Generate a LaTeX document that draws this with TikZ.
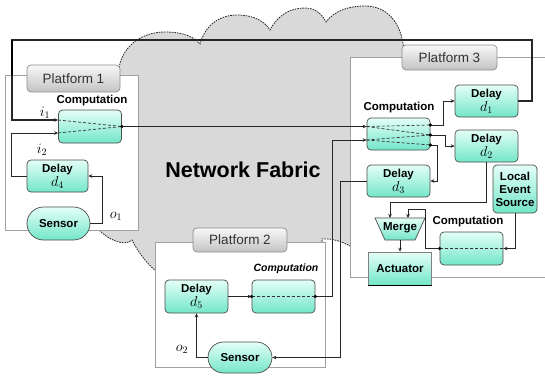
\documentclass[tikz,border=0pt]{standalone}
\usepackage{fontspec}
\setmainfont{Liberation Sans}
\usetikzlibrary{arrows.meta,shapes.geometric,shapes.misc,calc}
\definecolor{aqtop}{RGB}{228,255,247}
\definecolor{aqbot}{RGB}{115,230,200}
\definecolor{cloudgray}{RGB}{217,217,217}
\definecolor{platline}{RGB}{160,160,160}
\definecolor{tabtop}{RGB}{248,248,248}
\definecolor{tabbot}{RGB}{195,195,195}
\newcommand\dlsize{\fontsize{14}{14}\selectfont}
\begin{document}
\begin{tikzpicture}[x=1pt,y=-1pt,
  lbl/.style={font=\bfseries\fontsize{11.5}{13}\selectfont},
  box/.style={draw=black!70, line width=0.7pt, rounded corners=4pt,
    top color=aqtop, bottom color=aqbot, align=center, inner sep=0pt,
    minimum width=63pt, minimum height=33pt, lbl},
  pill/.style={box, rounded rectangle, sharp corners},
  plat/.style={draw=platline, fill=white, line width=0.8pt, inner sep=0pt},
  tabbox/.style={draw=black!45, line width=0.7pt, rounded corners=4pt,
    top color=tabtop, bottom color=tabbot, inner sep=0pt,
    font=\fontsize{13.5}{14}\selectfont, text=black!80},
  conn/.style={draw=black!85, line width=0.8pt},
  arr/.style={conn, -{Stealth[length=4pt,width=3.5pt]}},
  inner/.style={draw=black!80, line width=0.7pt, dash pattern=on 3pt off 2pt},
  dot/.style={circle, fill=black, inner sep=0pt, minimum size=3.6pt},
  mlbl/.style={font=\fontsize{14}{14}\selectfont}
]
\useasboundingbox (0,0) rectangle (545,377);

% network cloud
\path[fill=cloudgray, draw=black!85, line width=0.8pt, dash pattern=on 1.6pt off 1pt]
  (118,78) .. controls (118,48) and (140,32) .. (165,32)
  .. controls (185,32) and (195,38) .. (200,44)
  .. controls (205,25) and (220,15) .. (237,15)
  .. controls (255,15) and (265,22) .. (270,30)
  .. controls (278,15) and (290,8) .. (305,8)
  .. controls (315,8) and (322,14) .. (326,22)
  .. controls (335,10) and (350,6) .. (365,6)
  .. controls (385,6) and (402,20) .. (404,52)
  -- (404,120) -- (360,120) -- (360,252)
  .. controls (348,244) and (336,238) .. (322,239)
  -- (322,262) -- (160,262) -- (157,272)
  .. controls (145,262) and (137,250) .. (132,240)
  .. controls (125,247) and (108,240) .. (98,229)
  -- (100,100) -- cycle;

\node[lbl, font=\bfseries\fontsize{21.5}{23}\selectfont] (nf) at (243,170) {Network Fabric};

% platforms
\node[plat, minimum width=133pt, minimum height=155pt] (P1) at (71.5,152.5) {};
\node[plat, minimum width=170pt, minimum height=125pt] (P2) at (240,304.5) {};
\node[plat, minimum width=200pt, minimum height=220pt] (P3) at (450,167) {};
\node[tabbox, minimum width=93pt, minimum height=27pt] (t1) at (73.5,78.5) {Platform 1};
\node[tabbox, minimum width=94pt, minimum height=24pt] (t2) at (240,240) {Platform 2};
\node[tabbox, minimum width=95pt, minimum height=25pt] (t3) at (449.5,57.5) {Platform 3};

% nodes platform 1
\node[box] (c1) at (90,126.5) {};
\node[lbl] (c1l) at (92,101) {Computation};
\node[box, minimum width=61pt, minimum height=32pt] (d4) at (57.5,176) {Delay\\[1pt]{\dlsize $d_4$}};
\node[pill] (s1) at (58.5,223.5) {Sensor};

% platform 3
\node[box, minimum height=32pt] (c3) at (398.5,134) {};
\node[lbl] (c3l) at (399,108) {Computation};
\node[box, minimum height=32pt] (d1) at (486.5,101) {Delay\\[1pt]{\dlsize $d_1$}};
\node[box, minimum height=32pt] (d2) at (486.5,146) {Delay\\[1pt]{\dlsize $d_2$}};
\node[box, minimum height=32pt] (d3) at (398.5,181) {Delay\\[1pt]{\dlsize $d_3$}};
\node[box, minimum width=44pt, minimum height=48pt] (les) at (515,189) {Local\\Event\\Source};
\shade[draw=black!70, line width=0.7pt, top color=aqtop, bottom color=aqbot]
  (375,218) -- (425,218) -- (415,240) -- (385,240) -- cycle;
\node[lbl] (mg) at (400,228) {Merge};
\coordinate (mgb) at (400,240);
\node[box, sharp corners, draw=black!50] (act) at (400,268.5) {Actuator};
\draw[line width=1.6pt, black] (act.south west) -- (act.south east);
\node[box] (c3b) at (471.5,248.5) {};
\node[lbl] (c3bl) at (468,222) {Computation};

% platform 2
\node[box] (d5) at (196.5,296.5) {Delay\\[1pt]{\dlsize $d_5$}};
\node[box] (c2) at (283.5,296.5) {};
\node[lbl, font=\bfseries\itshape\fontsize{10.5}{12}\selectfont] (c2l) at (286,269) {Computation};
\node[pill, minimum width=64pt, minimum height=31pt] (s2) at (240,357.5) {Sensor};

% port coordinates
\coordinate (c1i1) at ($(c1.west)+(0,-6.5)$);
\coordinate (c1i2) at ($(c1.west)+(0,6.5)$);
\coordinate (c3i1) at (c1.east -| c3.west);
\coordinate (c3i2) at ($(c3.west)+(0,6)$);
\coordinate (c3o1) at ($(c3.east)+(0,-9)$);
\coordinate (c3o2) at ($(c3.east)+(0,1)$);
\coordinate (c3o3) at ($(c3.east)+(0,11)$);
\coordinate (m1) at (390,218);
\coordinate (m2) at (408,218);
\coordinate (tr) at (532,40);
\coordinate (tl) at (12,40);
\coordinate (tlb) at (12,75);

% internal dashed routing
\draw[inner] (c1i1) -- (c1.east);
\draw[inner] (c1i2) -- (c1.east);
\draw[inner] (c3i1) -- (c3o1);
\draw[inner] (c3i1) -- (c3o2);
\draw[inner] (c3i2) -- (c3o2);
\draw[inner] (c3i2) -- (c3o3);
\draw[inner] (c2.west) -- (c2.east);
\draw[inner] (c3b.east) -- (c3b.west);

% labels
\node[mlbl] (li1) at (45,113) {$i_1$};
\node[mlbl] (li2) at (42,150) {$i_2$};
\node[mlbl] (lo1) at (116,216) {$o_1$};
\node[mlbl] (lo2) at (182,349) {$o_2$};

% connectors
\draw[arr, line width=1.2pt] (d1.east) -| (tr) -- (tl) |- (c1i1);
\draw[line width=2.6pt, black] (tl) -- (tlb);
\draw[arr] (d4.west) -- ++(-15.5,0) |- (c1i2);
\draw[arr] (s1.east) -- ++(12,0) |- (d4.east);
\draw[arr] (c1.east) -- (c3i1);
\draw[arr] (c2.east) -- ++(17,0) |- (c3i2);
\draw[arr] (d3.west) -- ++(-26,0) |- (s2.east);
\draw[arr] (c3o1) -- ++(13,0) |- (d1.west);
\draw[arr] (c3o2) -- ++(15,0) |- (d2.west);
\draw[arr] (c3o3) -- ++(7,0) |- (d3.east);
\draw[arr] (d2.south) -- ++(0,40) -| (m1);
\draw[arr] (c3b.west) -- ++(-14,0) |- ($(m2)+(0,-9)$) -- (m2);
\draw[arr] (les.south) |- (c3b.east);
\draw[arr] (mgb) -- (act.north);
\draw[arr] (d5.east) -- (c2.west);
\draw[arr] (s2.west) -- ++(-11,0) -| (d5.south);

% junction dots
\node[dot] (k1) at (c1.east) {};
\node[dot] (k2) at (c3o1) {};
\node[dot] (k3) at (c3o2) {};
\node[dot] (k4) at (c3o3) {};
\node[dot] (k5) at (c2.west) {};
\node[dot] (k6) at (c2.east) {};
\node[dot] (k7) at (c3b.west) {};
\end{tikzpicture}
\end{document}
